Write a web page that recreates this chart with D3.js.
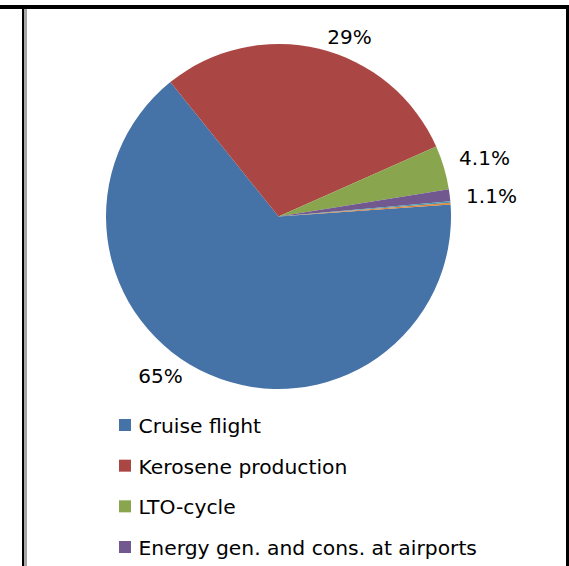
<!DOCTYPE html>
<html>
<head>
<meta charset="utf-8">
<script src="https://cdn.jsdelivr.net/npm/d3@7"></script>
<style>
  html, body { margin: 0; padding: 0; background: #fff; }
  svg { display: block; }
  text { font-family: "DejaVu Sans", Verdana, sans-serif; fill: #000; }
</style>
</head>
<body>
<svg id="chart" width="569" height="566"></svg>
<script>
// Emission shares by source (%)
const categories = [
  "Cruise flight",
  "Kerosene production",
  "LTO-cycle",
  "Energy gen. and cons. at airports",
  "Ground vehicles",
  "Other"
];
const shares = [65, 29, 4.1, 1.1, 0.15, 0.15];
const shareLabels = ["65%", "29%", "4.1%", "1.1%", "", ""];
const legendCount = 4;

const colors = ["#4572A7", "#AA4643", "#89A54E", "#71588F", "#4198AF", "#DB843D"];

const svg = d3.select("#chart");
const W = 569, H = 566;

// frame lines
svg.append("rect").attr("x", 0).attr("y", 5).attr("width", W).attr("height", 4).attr("fill", "#000");
svg.append("rect").attr("x", 566).attr("y", 5).attr("width", 3).attr("height", H - 5).attr("fill", "#000");
svg.append("rect").attr("x", 22).attr("y", 9).attr("width", 2.3).attr("height", H - 9).attr("fill", "#000");
svg.append("rect").attr("x", 24.3).attr("y", 9).attr("width", 2.7).attr("height", H - 9).attr("fill", "#a6a6a6");

// pie
const cx = 278.5, cy = 216.5, r = 172.5;
const start = 86 * Math.PI / 180;
const pie = d3.pie().sort(null).value(d => d.v)
  .startAngle(start).endAngle(start + 2 * Math.PI);
const data = categories.map((c, i) => ({ c, v: shares[i], label: shareLabels[i], color: colors[i] }));
const arcs = pie(data);
const arc = d3.arc().innerRadius(0).outerRadius(r);

const g = svg.append("g").attr("transform", `translate(${cx},${cy})`);
g.selectAll("path.slice").data(arcs).join("path")
  .attr("class", "slice")
  .attr("d", arc)
  .attr("fill", d => d.data.color);

// outside value labels, anchored near each slice's mid-angle
const labelPos = {
  "Cruise flight":       { x: 160.5, y: 383 },
  "Kerosene production": { x: 349.5, y: 44 },
  "LTO-cycle":           { x: 484.5, y: 165 },
  "Energy gen. and cons. at airports": { x: 491.5, y: 202.5 }
};
svg.selectAll("text.val").data(arcs.filter(d => d.data.label)).join("text")
  .attr("class", "val")
  .attr("x", d => labelPos[d.data.c].x)
  .attr("y", d => labelPos[d.data.c].y)
  .attr("text-anchor", "middle")
  .attr("font-size", "20px")
  .text(d => d.data.label);

// legend
const legend = svg.append("g");
const ly = d3.scalePoint().domain(categories.slice(0, legendCount)).range([433, 555]);
const items = legend.selectAll("g").data(data.slice(0, legendCount)).join("g")
  .attr("transform", d => `translate(0,${ly(d.c)})`);
items.append("rect").attr("x", 119).attr("y", -14).attr("width", 12).attr("height", 12)
  .attr("fill", d => d.color);
items.append("text").attr("x", 138.5).attr("y", 0)
  .attr("font-size", "20.3px")
  .text(d => d.c);
</script>
</body>
</html>
